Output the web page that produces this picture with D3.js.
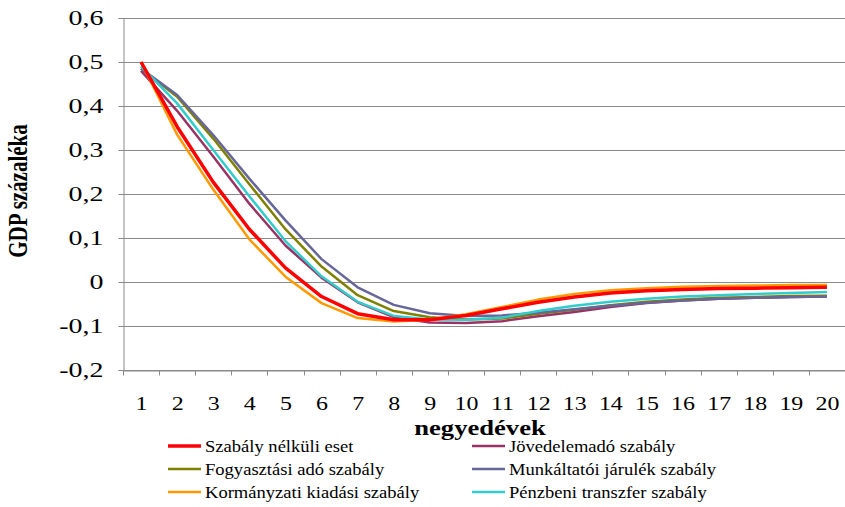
<!DOCTYPE html>
<html>
<head>
<meta charset="utf-8">
<script src="https://cdn.jsdelivr.net/npm/d3@7"></script>
<style>
  body { margin: 0; background: #fff; }
</style>
</head>
<body>
<svg id="chart" width="845" height="507"></svg>
<script>
const categories = ["1","2","3","4","5","6","7","8","9","10","11","12","13","14","15","16","17","18","19","20"];
const yTicks = [-0.2, -0.1, 0, 0.1, 0.2, 0.3, 0.4, 0.5, 0.6];

const seriesNames = [
  "Szabály nélküli eset",
  "Jövedelemadó szabály",
  "Fogyasztási adó szabály",
  "Munkáltatói járulék szabály",
  "Kormányzati kiadási szabály",
  "Pénzbeni transzfer szabály"
];
const seriesColors = ["#FF0000", "#993366", "#808000", "#666699", "#FF9900", "#33CCCC"];

const szabalyNelkuli = [0.50, 0.353, 0.227, 0.12, 0.032, -0.033, -0.072, -0.086, -0.086, -0.076, -0.061, -0.046, -0.034, -0.025, -0.020, -0.017, -0.015, -0.014, -0.013, -0.012];
const jovedelemado   = [0.48, 0.389, 0.285, 0.178, 0.083, 0.010, -0.046, -0.080, -0.092, -0.093, -0.089, -0.078, -0.068, -0.057, -0.048, -0.042, -0.038, -0.036, -0.034, -0.033];
const fogyasztasi    = [0.485, 0.421, 0.326, 0.222, 0.120, 0.035, -0.030, -0.066, -0.080, -0.085, -0.083, -0.072, -0.063, -0.053, -0.045, -0.040, -0.036, -0.034, -0.032, -0.031];
const munkaltatoi    = [0.485, 0.425, 0.334, 0.235, 0.140, 0.052, -0.012, -0.052, -0.071, -0.077, -0.076, -0.070, -0.062, -0.054, -0.047, -0.042, -0.038, -0.036, -0.034, -0.033];
const kormanyzati    = [0.50, 0.335, 0.210, 0.097, 0.012, -0.048, -0.082, -0.090, -0.086, -0.073, -0.057, -0.040, -0.027, -0.019, -0.014, -0.011, -0.009, -0.008, -0.007, -0.007];
const penzbeni       = [0.49, 0.406, 0.300, 0.195, 0.093, 0.013, -0.045, -0.077, -0.085, -0.086, -0.081, -0.066, -0.054, -0.045, -0.038, -0.033, -0.030, -0.027, -0.025, -0.023];

const seriesValues = [szabalyNelkuli, jovedelemado, fogyasztasi, munkaltatoi, kormanyzati, penzbeni];
const seriesWidths = [3.5, 2.5, 2.5, 2.5, 2.5, 2.5];

const svg = d3.select("#chart");
const pLeft = 123, pRight = 845, pTop = 18, pBottom = 370;
const FONT = "Liberation Serif";
const STRETCH = 1.33; // the reference text is drawn horizontally widened

function widen(sel, k) {
  const f = k || STRETCH;
  sel.each(function () {
    const w = this.getComputedTextLength();
    d3.select(this).attr("textLength", w * f).attr("lengthAdjust", "spacingAndGlyphs");
  });
}

const x = d3.scalePoint().domain(categories).range([pLeft, pRight]).padding(0.5);
const y = d3.scaleLinear().domain([-0.2, 0.6]).range([pBottom, pTop]);

// gridlines
svg.append("g").selectAll("line").data(yTicks).join("line")
  .attr("x1", pLeft).attr("x2", pRight)
  .attr("y1", d => Math.round(y(d)) + 0.5).attr("y2", d => Math.round(y(d)) + 0.5)
  .attr("stroke", "#8a8a8a").attr("stroke-width", 1);

// y axis
const fmt = d => d === 0 ? "0" : d3.format(".1f")(d).replace(".", ",").replace("−", "-");
const yAxis = d3.axisLeft(y).tickValues(yTicks).tickSize(5).tickPadding(15).tickFormat(fmt);
const gy = svg.append("g").attr("transform", `translate(${pLeft + 0.5},0)`).call(yAxis)
  .attr("font-family", FONT);
gy.select(".domain").attr("stroke", "#8a8a8a");
gy.selectAll(".tick line").attr("stroke", "#8a8a8a");
gy.selectAll(".tick text").attr("font-size", 21).attr("fill", "#000").attr("font-family", FONT)
  .call(widen);

// x axis
const xAxis = d3.axisBottom(x).tickSize(0).tickPadding(27);
const gx = svg.append("g").attr("transform", `translate(0,${pBottom + 0.5})`).call(xAxis)
  .attr("font-family", FONT);
gx.select(".domain").attr("stroke", "#8a8a8a");
gx.selectAll(".tick text").attr("font-size", 18).attr("fill", "#000").attr("font-family", FONT)
  .call(widen);
const step = x.step();
gx.append("g").selectAll("line").data(d3.range(categories.length + 1)).join("line")
  .attr("x1", i => Math.round(pLeft + i * step) + 0.5).attr("x2", i => Math.round(pLeft + i * step) + 0.5)
  .attr("y1", 0).attr("y2", 5).attr("stroke", "#8a8a8a");

// lines
const line = d3.line().x((d, i) => x(categories[i])).y(d => y(d));
const order = [1, 2, 3, 4, 5, 0];
svg.append("g").selectAll("path").data(order).join("path")
  .attr("d", k => line(seriesValues[k]))
  .attr("fill", "none")
  .attr("stroke", k => seriesColors[k])
  .attr("stroke-width", k => seriesWidths[k])
  .attr("stroke-linejoin", "round");

// axis titles
svg.append("text").attr("transform", `translate(27,191) scale(${STRETCH},1) rotate(-90)`)
  .attr("text-anchor", "middle").attr("font-size", 21).attr("font-weight", "bold")
  .attr("font-family", FONT)
  .text("GDP százaléka");
svg.append("text").attr("x", 480).attr("y", 435)
  .attr("text-anchor", "middle").attr("font-size", 20).attr("font-weight", "bold")
  .attr("font-family", FONT)
  .text("negyedévek")
  .call(widen);

// legend
const legendPos = [[168, 446], [472, 446], [168, 469], [472, 469], [168, 492], [472, 492]];
const lg = svg.append("g").selectAll("g").data(seriesNames).join("g")
  .attr("transform", (d, i) => `translate(${legendPos[i][0]},${legendPos[i][1]})`);
lg.append("line").attr("x1", 0).attr("x2", 33).attr("y1", 0).attr("y2", 0)
  .attr("stroke", (d, i) => seriesColors[i]).attr("stroke-width", (d, i) => seriesWidths[i]);
lg.append("text").attr("x", 37).attr("y", 6).attr("font-size", 17.5).attr("fill", "#000")
  .attr("font-family", FONT)
  .text(d => d)
  .call(widen, 1.06);
</script>
</body>
</html>
